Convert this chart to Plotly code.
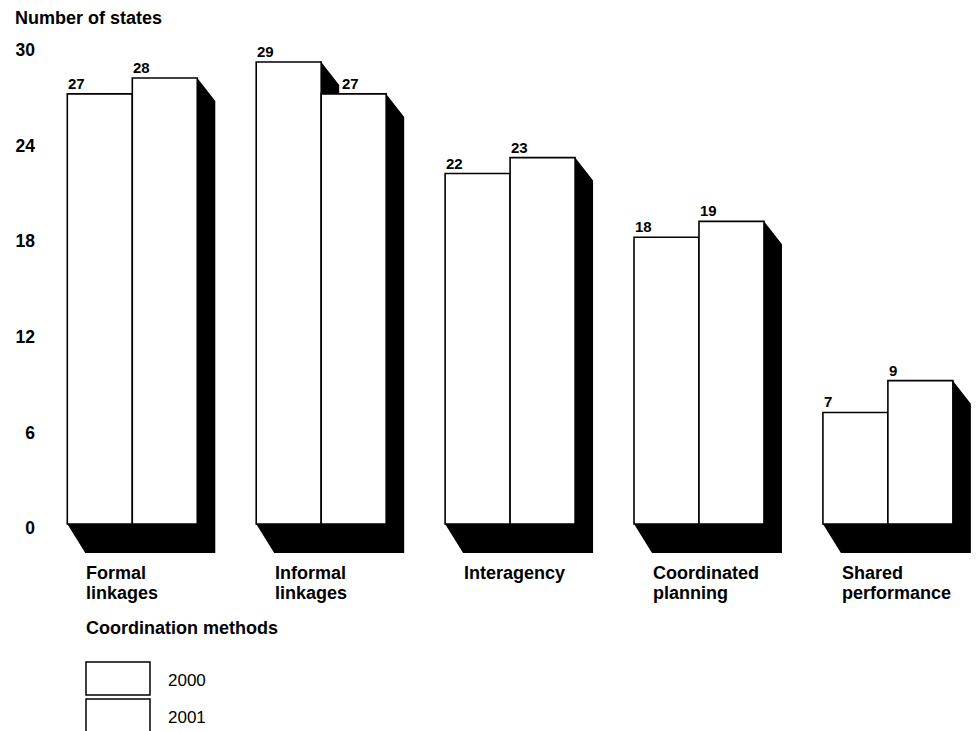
import plotly.graph_objects as go

# ---- data -------------------------------------------------------------
categories = ["Formal<br>linkages", "Informal<br>linkages", "Interagency",
              "Coordinated<br>planning", "Shared<br>performance"]
years = ["2000", "2001"]
states_2000 = [27, 29, 22, 18, 7]
states_2001 = [28, 27, 23, 19, 9]
y_ticks = [0, 6, 12, 18, 24, 30]

# ---- geometry ---------------------------------------------------------
W, H = 980, 731
M_L = 40
X_RANGE = [-0.4886, 4.4876]
Y_RANGE = [-12.994, 32.894]
BARGAP = 0.312
BAR_W = (1 - BARGAP) / 2

PX_PER_X = (W - M_L) / (X_RANGE[1] - X_RANGE[0])
PX_PER_Y = H / (Y_RANGE[1] - Y_RANGE[0])

# depth of the black extrusion, in pixels
SH_DX = 18
SH_DY_TOP = 23
SH_DY_BOT = 29

FONT = "Liberation Sans"


def paper_x(px):
    return (px - M_L) / (W - M_L)


def paper_y(py):
    return 1 - py / H


fig = go.Figure()
series = [states_2000, states_2001]
for name, vals in zip(years, series):
    fig.add_trace(go.Bar(
        x=list(range(len(categories))), y=vals, name=name,
        marker=dict(color="white", line=dict(color="black", width=1.6)),
        showlegend=False, hoverinfo="skip",
    ))

shapes = []
annotations = []
dx = SH_DX / PX_PER_X
dyt = SH_DY_TOP / PX_PER_Y
dyb = SH_DY_BOT / PX_PER_Y

for s, vals in enumerate(series):
    for i, h in enumerate(vals):
        x0 = i - BAR_W + s * BAR_W
        x1 = x0 + BAR_W
        path = (f"M {x0},0 L {x0 + dx},{-dyb} L {x1 + dx},{-dyb} "
                f"L {x1 + dx},{h - dyt} L {x1},{h} L {x1},0 Z")
        shapes.append(dict(type="path", path=path, xref="x", yref="y",
                           fillcolor="black", line=dict(width=0),
                           layer="below"))
        # when the neighbouring bar on the left is taller, its shadow
        # wedge sits above this bar, so the value label moves past it
        shift = -1
        if s > 0 and series[s - 1][i] > h:
            shift = SH_DX + 1
        annotations.append(dict(
            x=x0, y=h, xref="x", yref="y", text=str(h), showarrow=False,
            xanchor="left", yanchor="bottom", xshift=shift, yshift=0,
            font=dict(family=FONT, size=15, color="black", weight="bold"),
        ))

# category labels, one annotation per line
for i, label in enumerate(categories):
    for k, line in enumerate(label.split("<br>")):
        annotations.append(dict(
            x=i - BAR_W, xref="x", xshift=17, y=paper_y(573 + 20 * k),
            yref="paper", text=line, showarrow=False, xanchor="left",
            yanchor="middle",
            font=dict(family=FONT, size=18, color="black", weight="bold"),
        ))

# titles
annotations.append(dict(
    x=paper_x(13), y=paper_y(18), xref="paper", yref="paper",
    text="Number of states", showarrow=False, xanchor="left",
    yanchor="middle",
    font=dict(family=FONT, size=18, color="black", weight="bold"),
))
annotations.append(dict(
    x=paper_x(84), y=paper_y(628), xref="paper", yref="paper",
    text="Coordination methods", showarrow=False, xanchor="left",
    yanchor="middle",
    font=dict(family=FONT, size=18, color="black", weight="bold"),
))

# legend key
for k, (name, (top, bot), ty) in enumerate(zip(
        years, [(662, 695), (699, 735)], [680, 717])):
    shapes.append(dict(type="rect", xref="paper", yref="paper",
                       x0=paper_x(86), x1=paper_x(150),
                       y0=paper_y(bot), y1=paper_y(top),
                       fillcolor="white", line=dict(color="black", width=1.5)))
    annotations.append(dict(
        x=paper_x(166), y=paper_y(ty), xref="paper", yref="paper",
        text=name, showarrow=False, xanchor="left", yanchor="middle",
        font=dict(family=FONT, size=17, color="black"),
    ))

fig.update_layout(
    width=W, height=H,
    margin=dict(l=M_L, r=0, t=0, b=0),
    paper_bgcolor="white", plot_bgcolor="white",
    barmode="group", bargap=BARGAP, bargroupgap=0,
    shapes=shapes, annotations=annotations,
    xaxis=dict(range=X_RANGE, visible=False, fixedrange=True),
    yaxis=dict(range=Y_RANGE, tickvals=y_ticks, ticks="", showgrid=False,
               zeroline=False, showline=False, fixedrange=True,
               ticklabelstandoff=4, ticklabelshift=4,
               tickfont=dict(family=FONT, size=17.5, color="black",
                             weight="bold")),
)

fig.write_html("out.html")
